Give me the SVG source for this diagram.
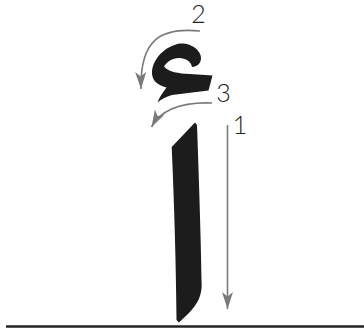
<svg xmlns="http://www.w3.org/2000/svg" width="364" height="331" viewBox="0 0 364 331">
<style>
.lbl{font-family:Lato,"Open Sans","DejaVu Sans",sans-serif;font-weight:300;font-size:25px;fill:#222;text-anchor:middle}
.arr{fill:none;stroke:#7a7a7a;stroke-width:1.6}
.ink{fill:#1c1c1c}
</style>
<defs>
<marker id="ah" markerUnits="userSpaceOnUse" markerWidth="18" markerHeight="12" refX="17" refY="5.5" orient="auto">
<path d="M0,0 L17,5.5 L0,11 L4.5,5.5 Z" fill="#7a7a7a"/>
</marker>
</defs>
<rect width="364" height="331" fill="#fff"/>
<g id="baseline"><line x1="6" y1="326.5" x2="364" y2="326.5" stroke="#222" stroke-width="2.5"/></g>
<g id="alif"><path class="ink" d="M195,122.5 L197,125 C199,180 201,240 201.7,286 C201,300 195,308 179,322.5 L176.5,320 C176,260 174,200 171.7,147 Z"/></g>
<g id="hamza"><path class="ink" d="M152,72 C152.5,59 165,46 180,43.5 C191,42.5 201,50 201,58 C201,63.5 197,67 192,67 C191,61.5 186,58 179,58 C172,58 167,62 164,66.5 C169,72 178,73.5 190,74 L212.5,75.5 L208.5,90.5 L172,95 C166,96.5 161,99.5 157.5,102.5 C159.5,97 162.5,93 166.5,87.5 C157.5,85.5 151.5,80 152,72 Z"/></g>
<g id="connectors">
<path class="arr" d="M227.5,125 L227.5,309" marker-end="url(#ah)"/>
<path class="arr" d="M200,31 C160,27 140,40 141,89" marker-end="url(#ah)"/>
<path class="arr" d="M212,103 C185,102 162,108 151.5,127" marker-end="url(#ah)"/>
</g>
<g id="label1"><text class="lbl" x="240" y="133.5">1</text></g>
<g id="label2"><text class="lbl" x="198.5" y="23">2</text></g>
<g id="label3"><text class="lbl" x="223.5" y="102">3</text></g>
</svg>
